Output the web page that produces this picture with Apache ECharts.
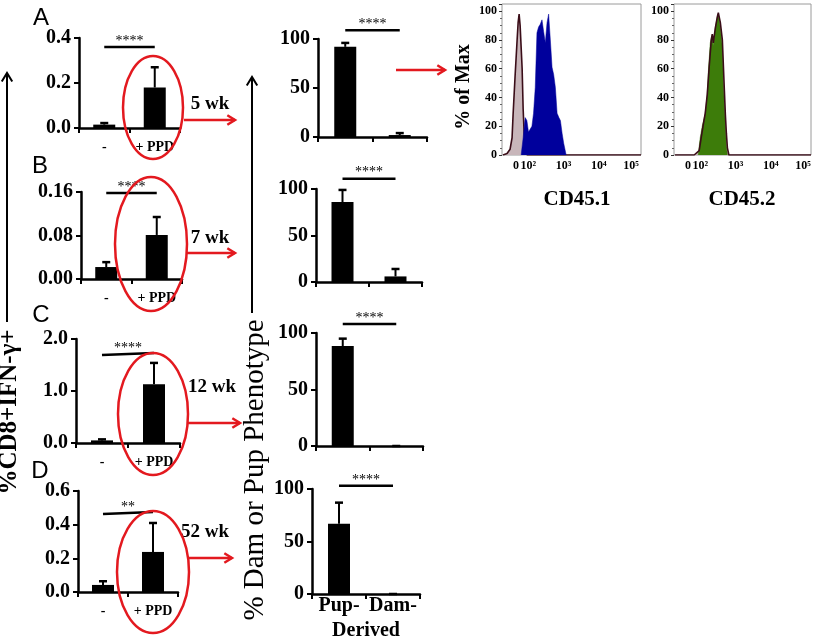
<!DOCTYPE html>
<html><head><meta charset="utf-8">
<script src="https://cdn.jsdelivr.net/npm/echarts@6/dist/echarts.min.js"></script>
<style>html,body{margin:0;padding:0;background:#fff}#c{width:816px;height:636px}</style>
</head><body><div id="c"></div>
<script>
// ---------------- DATA ----------------
const leftCats = ['-', '+ PPD'];
const midCats = ['Pup-', 'Dam-'];
const leftMeanA = [0.015, 0.18],  leftSemA = [0.007, 0.09];
const leftMeanB = [0.022, 0.081], leftSemB = [0.009, 0.033];
const leftMeanC = [0.05, 1.13],   leftSemC = [0.02, 0.41];
const leftMeanD = [0.042, 0.238], leftSemD = [0.022, 0.172];
const midMeanA = [92, 2],   midSemA = [4, 2];
const midMeanB = [86, 6],   midSemB = [13, 8];
const midMeanC = [88.5, 0], midSemC = [6.5, 0];
const midMeanD = [67, 0],   midSemD = [20, 0];
const leftYMax = [0.4, 0.16, 2.0, 0.6];
const leftYStep = [0.2, 0.08, 1.0, 0.2];
const leftYDec = [1, 2, 1, 1];
const leftSigStart = [0.36, 0.158, 1.69, 0.463];
const leftSigEnd = [0.36, 0.158, 1.73, 0.475];
const leftSigText = ['****', '****', '****', '**'];
const midSigY = [109, 111, 108, 103];
const midSigText = ['****', '****', '****', '****'];
const weekLabels = ['5 wk', '7 wk', '12 wk', '52 wk'];
const panelLetters = ['A', 'B', 'C', 'D'];
const histTickPos = [14, 26, 61, 96, 128];
const histTickLabels = ['0', '10²', '10³', '10⁴', '10⁵'];
const hist1Control = [[1,0],[5,1],[8,4],[10,12],[11,28],[13,55],[15,80],[16,92],[17,98],[18,90],[19,75],[20,60],[21,32],[22,15],[23,6],[25,0],[138,0]];
const hist1Sample = [[19,0],[21,12],[23,26],[24.7,24],[26.3,16],[28,15],[29.7,20],[31.3,29],[33,47],[34.7,85],[36.3,89],[38,91],[39.7,94],[41.3,86],[43,78],[44.7,92],[46.3,98],[48,80],[49.7,61],[51.3,56],[53,47],[54.7,29],[56.5,26],[58,24],[59.7,15],[61.3,8],[63.7,0]];
const hist2Control = [[1,0],[20,0],[25,3],[27,12],[29,21],[31,29],[33,42],[35,62],[37,80],[38,84],[39,78],[41,88],[43,96],[44,99],[46,92],[48,80],[50,45],[51,28],[52,15],[53,5],[54.5,0],[136,0]];
const hist2Sample = [[24,0],[26,12],[28,20],[31,29],[33,42],[34,57],[36,78],[37.5,83],[39,76],[41,89],[43,96],[44,98],[46,88],[48,75],[49,50],[50,35],[51,20],[52,6],[53,0]];
const histTitles = ['CD45.1', 'CD45.2'];

// ---------------- LAYOUT ----------------
const leftGrids = [
  {left:79, top:38, width:101, height:90},
  {left:81, top:192, width:101, height:87},
  {left:76, top:339, width:104, height:104},
  {left:78, top:491, width:100, height:101}
];
const midGrids = [
  {left:318, top:39, width:109, height:98},
  {left:316, top:189, width:106, height:93},
  {left:316, top:333, width:107, height:113},
  {left:312, top:489, width:108, height:105}
];
const histGrids = [
  {left:502, top:4, width:139, height:151},
  {left:674, top:4, width:137, height:151}
];

const SERIF = "'Liberation Serif','Times New Roman',serif";
const SANS = "'Liberation Sans',Arial,sans-serif";
const RED = '#e3191f';

const grid = [], xAxis = [], yAxis = [], series = [];

function errRender(params, api) {
  const p0 = api.coord([api.value(0), api.value(1)]);
  const p1 = api.coord([api.value(0), api.value(2)]);
  const hw = 4;
  return {type:'group', children:[
    {type:'line', shape:{x1:p0[0], y1:p0[1], x2:p1[0], y2:p1[1]}, style:{stroke:'#000', lineWidth:2}},
    {type:'line', shape:{x1:p1[0]-hw, y1:p1[1], x2:p1[0]+hw, y2:p1[1]}, style:{stroke:'#000', lineWidth:2.5}}
  ]};
}
function makeSig(text) {
  return function(params, api) {
    const p0 = api.coord([api.value(0), api.value(1)]);
    const p1 = api.coord([api.value(2), api.value(3)]);
    return {type:'group', children:[
      {type:'line', shape:{x1:p0[0], y1:p0[1], x2:p1[0], y2:p1[1]}, style:{stroke:'#000', lineWidth:2.5}},
      {type:'text', style:{text:text, x:(p0[0]+p1[0])/2, y:(p0[1]+p1[1])/2 - 6, textAlign:'center', textVerticalAlign:'middle', font:'14px ' + SERIF, fill:'#000'}}
    ]};
  };
}

function barAxes(g, cats, max, step, dec, showX, xLabelSize, xMargin) {
  const gi = grid.length;
  grid.push(Object.assign({containLabel:false, outerBoundsMode:'none'}, g));
  xAxis.push({
    gridIndex: gi, type:'category', data: cats,
    axisLine:{lineStyle:{color:'#000', width:2.5}},
    axisTick:{show:true, length:5, lineStyle:{color:'#000', width:2}},
    axisLabel:{show:showX, interval:0, color:'#000', fontFamily:SERIF, fontWeight:'bold', fontSize:xLabelSize, margin:xMargin},
    splitLine:{show:false}
  });
  yAxis.push({
    gridIndex: gi, type:'value', min:0, max:max, interval:step,
    axisLine:{show:true, lineStyle:{color:'#000', width:2.5}},
    axisTick:{show:true, length:5, lineStyle:{color:'#000', width:2}},
    axisLabel:{color:'#000', fontFamily:SERIF, fontWeight:'bold', fontSize:20, margin:8,
      formatter: v => v.toFixed(dec)},
    splitLine:{show:false}
  });
  return gi;
}
function barSeries(gi, means, sems, sigY0, sigY1, sigText) {
  series.push({type:'bar', xAxisIndex:gi, yAxisIndex:gi, data:means, barWidth:22,
    itemStyle:{color:'#000'}, silent:true, animation:false});
  series.push({type:'custom', xAxisIndex:gi, yAxisIndex:gi, renderItem:errRender,
    data: means.map((m,i)=>[i, m, m + sems[i]]), silent:true, animation:false, z:3});
  series.push({type:'custom', xAxisIndex:gi, yAxisIndex:gi, renderItem:makeSig(sigText),
    data: [[0, sigY0, 1, sigY1]], silent:true, animation:false, z:3});
}

const leftMeans = [leftMeanA, leftMeanB, leftMeanC, leftMeanD];
const leftSems = [leftSemA, leftSemB, leftSemC, leftSemD];
const midMeans = [midMeanA, midMeanB, midMeanC, midMeanD];
const midSems = [midSemA, midSemB, midSemC, midSemD];

for (let k = 0; k < 4; k++) {
  const gi = barAxes(leftGrids[k], leftCats, leftYMax[k], leftYStep[k], leftYDec[k], true, 14, 12);
  barSeries(gi, leftMeans[k], leftSems[k], leftSigStart[k], leftSigEnd[k], leftSigText[k]);
}
for (let k = 0; k < 4; k++) {
  const gi = barAxes(midGrids[k], midCats, 100, 50, 0, k === 3, 20, 2);
  barSeries(gi, midMeans[k], midSems[k], midSigY[k], midSigY[k], midSigText[k]);
  if (k === 3) {
    xAxis[gi].name = 'Derived';
    xAxis[gi].nameLocation = 'middle';
    xAxis[gi].nameGap = 27;
    xAxis[gi].nameTextStyle = {color:'#000', fontFamily:SERIF, fontWeight:'bold', fontSize:20};
  }
}

// histograms
const histData = [[hist1Control, hist1Sample, '#00009c'], [hist2Control, hist2Sample, '#3d7c0a']];
for (let h = 0; h < 2; h++) {
  const gi = grid.length;
  grid.push(Object.assign({show:true, borderColor:'#9a9a9a', borderWidth:1, backgroundColor:'#fff', containLabel:false, outerBoundsMode:'none'}, histGrids[h]));
  xAxis.push({gridIndex:gi, type:'value', min:0, max: h === 0 ? 138 : 136, interval:1,
    axisLine:{show:false}, axisTick:{show:false}, splitLine:{show:false},
    axisLabel:{color:'#000', fontFamily:SERIF, fontWeight:'bold', fontSize:12, margin:5,
      formatter: v => { const i = histTickPos.indexOf(v); return i >= 0 ? histTickLabels[i] : ''; }}
  });
  yAxis.push({gridIndex:gi, type:'value', min:0, max:105, interval:20,
    axisLine:{show:false}, splitLine:{show:false},
    axisTick:{show:true, length:3, lineStyle:{color:'#333', width:1}},
    minorTick:{show:true, splitNumber:4, length:2, lineStyle:{color:'#666'}},
    axisLabel:{color:'#000', fontFamily:SERIF, fontWeight:'bold', fontSize:12, margin:5,
      formatter: v => (v <= 100 && v % 20 === 0) ? String(v) : ''}
  });
  const [ctrl, samp, col] = histData[h];
  series.push({type:'line', xAxisIndex:gi, yAxisIndex:gi, data:ctrl, symbol:'none', silent:true, animation:false,
    lineStyle:{width:0}, areaStyle:{color:'#c8b6ba', opacity:1}, z:2});
  series.push({type:'line', xAxisIndex:gi, yAxisIndex:gi, data:samp, symbol:'none', silent:true, animation:false,
    lineStyle:{width:0.5, color:col}, areaStyle:{color:col, opacity:1}, z:3});
  series.push({type:'line', xAxisIndex:gi, yAxisIndex:gi, data:ctrl, symbol:'none', silent:true, animation:false,
    lineStyle:{width:1.6, color:'#3a0d18'}, z: h === 0 ? 2 : 4});
}

// ---------------- ANNOTATIONS ----------------
const graphic = [];
function text(t, x, y, font, opts) {
  graphic.push(Object.assign({type:'text', x:x, y:y, silent:true,
    style:{text:t, font:font, fill:'#000', textAlign:'center', textVerticalAlign:'middle'}}, opts || {}));
}
function arrow(x1, y1, x2, y2, color, w, head) {
  graphic.push({type:'line', silent:true, shape:{x1, y1, x2, y2}, style:{stroke:color, lineWidth:w}});
  const a = Math.atan2(y2 - y1, x2 - x1), L = head, s = 0.55;
  graphic.push({type:'polyline', silent:true, shape:{points:[
    [x2 - L*Math.cos(a - s), y2 - L*Math.sin(a - s)], [x2, y2], [x2 - L*Math.cos(a + s), y2 - L*Math.sin(a + s)]]},
    style:{stroke:color, lineWidth:w, fill:'none'}});
}
const letterPos = [[41,18.5],[40,166.5],[41,315],[40,471.5]];
panelLetters.forEach((l, i) => text(l, letterPos[i][0], letterPos[i][1], '24px ' + SANS));
const ellipses = [[153,107.5,30,51.5],[151,244,36,67],[153,414,35,61],[153,572,36,61]];
ellipses.forEach(e => graphic.push({type:'ellipse', silent:true, shape:{cx:e[0], cy:e[1], rx:e[2], ry:e[3]},
  style:{stroke:RED, lineWidth:2.5, fill:'none'}, z:10}));
const redArrows = [[184,120,235,120],[187,253,235,253],[188,423,240,423],[189,558,232,558],[396,70,445,70]];
redArrows.forEach(a => arrow(a[0], a[1], a[2], a[3], RED, 2.5, 9));
const weekPos = [[210,104],[210,238],[212,387],[205,532]];
weekLabels.forEach((w, i) => text(w, weekPos[i][0], weekPos[i][1], 'bold 19px ' + SERIF));
arrow(7, 322, 7, 73, '#000', 2, 10);
arrow(252, 313, 252, 77, '#000', 2, 10);
text('%CD8+IFN-γ+', 10, 412, 'bold 25px ' + SERIF, {rotation: Math.PI/2});
text('% Dam or Pup Phenotype', 255, 470, '29px ' + SERIF, {rotation: Math.PI/2});
text('% of Max', 464, 87, 'bold 20px ' + SERIF, {rotation: Math.PI/2});
text(histTitles[0], 577, 200, 'bold 21px ' + SERIF);
text(histTitles[1], 742, 200, 'bold 21px ' + SERIF);

const chart = echarts.init(document.getElementById('c'), null, {renderer:'canvas'});
chart.setOption({backgroundColor:'#fff', animation:false, grid, xAxis, yAxis, series, graphic});
</script></body></html>
